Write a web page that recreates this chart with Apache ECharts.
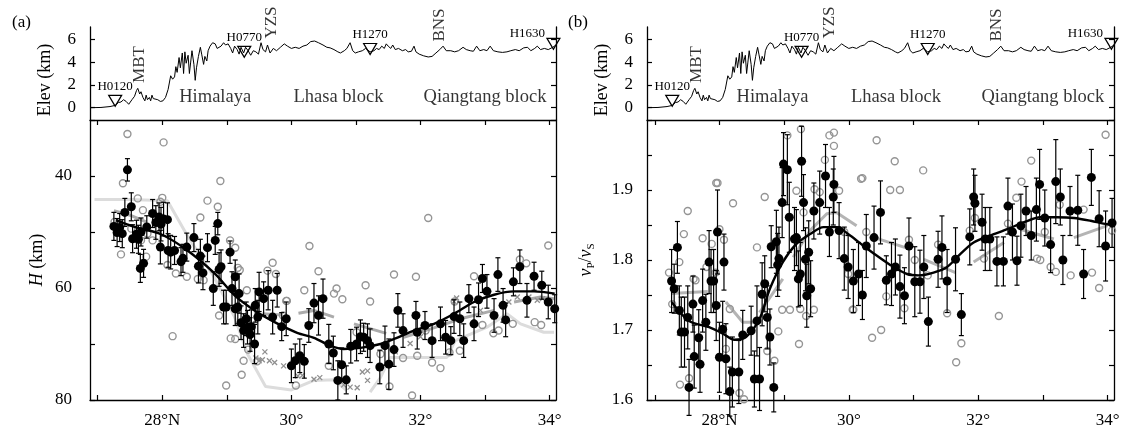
<!DOCTYPE html>
<html>
<head>
<meta charset="utf-8">
<script src="https://cdn.jsdelivr.net/npm/echarts@6.0.0/dist/echarts.min.js"></script>
<style>
  html, body { margin: 0; padding: 0; background: #fff; }
  #chart { width: 1126px; height: 432px; }
</style>
</head>
<body>
<div id="chart"></div>
<script>
// ---- data ----
// topography along the profile: [lat, elevation km]
const elevProfile = [
  [26.88,0.0],[27.05,0.02],[27.19,0.1],[27.27,0.2],[27.32,0.45],[27.36,0.5],[27.40,0.7],[27.44,0.55],
  [27.48,0.3],[27.50,0.2],[27.53,0.7],[27.57,1.0],[27.60,1.5],[27.62,1.7],[27.65,1.2],[27.67,1.4],
  [27.70,0.9],[27.73,0.6],[27.75,1.1],[27.77,0.7],[27.80,0.9],[27.82,0.6],[27.84,1.1],[27.86,0.8],
  [27.89,0.9],[27.93,0.7],[27.97,0.55],[28.01,0.6],[28.05,0.9],[28.09,1.6],[28.13,2.8],[28.16,2.5],
  [28.19,2.7],[28.21,3.6],[28.23,3.1],[28.26,4.4],[28.28,3.5],[28.31,4.8],[28.33,3.0],[28.35,4.9],
  [28.37,3.9],[28.40,4.6],[28.42,3.0],[28.44,4.0],[28.46,5.0],[28.49,3.8],[28.51,2.4],[28.53,3.5],
  [28.56,4.5],[28.59,5.3],[28.61,4.7],[28.64,3.8],[28.66,4.5],[28.69,4.1],[28.71,5.0],[28.74,5.4],
  [28.78,5.7],[28.82,5.6],[28.85,5.2],[28.88,5.1],[28.91,5.4],[28.95,5.7],[28.98,5.5],[29.02,5.6],
  [29.06,5.2],[29.09,4.8],[29.12,5.4],[29.16,5.1],[29.19,4.7],[29.22,5.3],[29.26,4.8],[29.29,5.3],
  [29.33,5.0],[29.37,4.6],[29.41,5.0],[29.45,4.9],[29.49,4.7],[29.53,5.7],[29.56,5.1],[29.60,4.9],
  [29.63,5.5],[29.67,4.8],[29.72,5.2],[29.77,5.0],[29.83,5.3],[29.89,5.6],[29.94,5.4],[30.00,5.2],
  [30.06,5.3],[30.12,5.2],[30.18,5.4],[30.24,5.5],[30.30,5.8],[30.36,5.85],[30.42,5.7],[30.49,5.5],
  [30.55,5.3],[30.60,5.25],[30.66,5.1],[30.72,4.9],[30.76,4.8],[30.82,5.0],[30.86,5.2],[30.91,5.7],
  [30.95,5.0],[30.99,4.8],[31.04,4.9],[31.10,5.0],[31.15,5.2],[31.22,4.9],[31.28,5.0],[31.32,5.2],
  [31.36,5.1],[31.40,5.4],[31.44,5.2],[31.47,5.6],[31.50,5.4],[31.54,5.2],[31.57,5.5],[31.61,5.1],
  [31.66,5.2],[31.72,5.0],[31.77,5.1],[31.81,4.9],[31.86,4.95],[31.90,5.4],[31.93,4.9],[31.98,4.7],
  [32.05,4.55],[32.12,4.45],[32.18,4.5],[32.24,4.8],[32.30,5.1],[32.35,5.4],[32.40,5.0],[32.47,5.0],
  [32.53,4.9],[32.59,5.0],[32.66,5.3],[32.71,5.1],[32.77,5.0],[32.82,4.95],[32.87,5.4],[32.92,5.0],
  [32.98,5.1],[33.03,5.0],[33.08,5.4],[33.13,5.0],[33.20,4.9],[33.27,4.85],[33.34,4.9],[33.40,5.0],
  [33.47,5.1],[33.53,5.0],[33.60,5.25],[33.66,5.3],[33.71,5.0],[33.77,5.2],[33.81,5.4],[33.86,5.1],
  [33.92,5.2],[33.98,5.1],[34.05,5.3],[34.10,5.5]
];
const stationNames = ['H0120', 'H0770', 'H1270', 'H1630'];
const stationLat = [27.27, 29.27, 31.22, 34.06];
const stationElev = [0.6, 4.9, 5.15, 5.6];
const boundaryNames = ['MBT', 'YZS', 'BNS'];
const boundaryLat = [27.64, 29.70, 32.29];
const blockNames = ['Himalaya', 'Lhasa block', 'Qiangtang block'];
const blockLat = [28.82, 30.73, 33.0];

const xTicks = [27, 28, 29, 30, 31, 32, 33, 34];
const xLabels = [28, 30, 32, 34];

// (a) crustal thickness H: [lat, H, error]
const hBlack = [
  [27.46,38.9,2.0],[27.25,49.0,2.5],[27.30,50.1,2.5],[27.34,49.2,2.5],[27.38,50.3,2.5],[27.42,46.5,2.5],
  [27.52,45.5,2.5],[27.54,51.2,2.5],[27.60,50.4,2.5],[27.63,51.3,2.5],[27.67,50.0,2.5],[27.66,56.5,2.5],
  [27.71,55.6,2.5],[27.76,49.1,2.0],[27.85,46.7,2.5],[27.90,48.3,3.0],[27.95,47.3,2.5],[27.98,48.6,3.0],
  [28.02,47.7,3.0],[28.08,47.8,3.0],[27.97,52.7,3.0],[28.09,53.3,3.0],[28.13,53.6,3.0],[28.19,53.3,2.5],
  [28.29,55.3,2.5],[28.32,54.7,2.5],[28.38,52.7,2.5],[28.49,51.0,2.5],[28.56,56.1,3.0],[28.59,54.3,3.0],
  [28.63,57.3,3.0],[28.70,52.8,2.5],[28.79,60.1,3.0],[28.82,51.5,2.5],[28.86,48.5,2.0],[28.88,56.7,3.0],
  [28.91,56.2,3.0],[28.95,63.4,3.0],[28.99,63.4,3.0],[29.05,53.6,2.0],[29.08,60.1,3.0],[29.13,63.7,3.0],
  [29.17,63.4,3.0],[29.13,58.0,3.0],[29.19,61.0,3.5],[29.22,66.2,3.0],[29.26,67.6,3.0],[29.30,65.5,3.0],
  [29.32,67.0,3.0],[29.36,68.3,3.0],[29.38,66.9,3.0],[29.43,70.0,3.5],[29.44,63.1,3.0],[29.48,65.2,3.0],
  [29.50,60.7,3.5],[29.57,61.9,3.0],[29.64,60.4,3.5],[29.71,65.2,3.0],[29.78,60.4,3.0],[29.85,66.9,2.5],
  [29.92,65.5,3.0],[30.00,73.9,3.0],[30.06,73.0,3.0],[30.13,72.1,3.0],[30.20,73.1,3.0],[30.27,66.7,3.0],
  [30.35,62.7,3.5],[30.42,64.9,3.5],[30.49,61.9,3.5],[30.58,70.0,3.5],[30.65,71.6,3.0],[30.72,76.5,3.5],
  [30.78,73.7,3.0],[30.85,76.4,2.5],[30.92,70.4,3.0],[31.01,70.0,3.0],[31.07,68.7,3.0],[31.12,68.8,2.5],
  [31.18,69.4,3.0],[31.22,70.3,3.0],[31.37,74.1,3.0],[31.45,70.3,3.5],[31.51,73.6,4.5],[31.59,71.0,3.0],
  [31.65,64.0,3.0],[31.73,67.6,3.0],[31.93,64.9,2.5],[31.95,67.9,3.0],[32.07,66.7,2.5],[32.18,69.4,3.0],
  [32.31,66.4,3.0],[32.39,68.8,3.0],[32.47,69.4,2.5],[32.52,65.1,3.0],[32.61,65.5,3.0],[32.67,69.4,3.0],
  [32.75,61.9,2.5],[32.83,66.4,3.0],[32.90,62.1,3.0],[32.96,58.3,2.5],[33.03,60.6,3.0],[33.14,64.9,3.0],
  [33.20,57.6,3.0],[33.28,63.1,3.0],[33.32,65.7,3.0],[33.44,58.9,2.5],[33.54,56.2,3.0],[33.65,62.2,3.0],
  [33.76,57.9,2.5],[33.88,59.5,2.5],[33.98,62.5,3.0],[34.08,63.7,2.5]
];
const hGrayCircles = [
  [27.46,32.5],[28.02,34.0],[27.39,41.3],[28.90,40.9],[27.62,44.0],[27.70,46.1],[28.00,43.9],[27.97,44.6],
  [28.70,44.4],[28.86,45.5],[28.59,47.4],[27.26,48.2],[27.33,48.5],[27.36,54.0],[27.52,49.4],[27.77,50.3],
  [27.67,51.5],[27.85,51.5],[27.75,54.4],[28.08,55.9],[28.21,57.4],[28.38,58.0],[28.16,68.6],[28.55,58.4],
  [28.64,58.6],[29.05,51.5],[29.13,52.8],[29.17,56.4],[29.20,56.8],[29.31,60.4],[29.71,55.5],[28.88,64.9],
  [29.06,69.0],[29.13,69.1],[29.26,73.0],[29.23,75.5],[28.99,77.4],[29.47,73.1],[29.33,71.0],[29.76,57.5],
  [29.63,56.9],[29.93,62.3],[30.07,77.4],[29.87,64.9],[30.28,52.5],[32.12,47.5],[30.42,57.0],[30.20,60.4],
  [29.92,62.3],[30.66,61.0],[30.79,62.0],[30.70,60.1],[31.15,59.5],[31.22,62.4],[31.59,57.6],[31.93,58.0],
  [30.58,73.9],[31.52,77.6],[31.87,79.2],[31.73,72.5],[31.95,72.1],[32.18,73.3],[32.31,74.3],[32.45,71.5],
  [32.61,71.2],[32.53,62.4],[32.83,57.9],[32.96,66.6],[33.13,68.1],[33.21,67.6],[33.43,66.4],[33.54,54.9],
  [33.64,55.6],[33.77,66.1],[33.87,66.6],[33.98,52.4],[31.01,67.9],[32.08,67.6],[31.38,71.8]
];
const hGrayCrosses = [
  [29.45,72.5],[29.50,73.0],[29.55,72.8],[29.59,71.4],[29.66,73.0],[29.74,73.3],[29.88,73.9],[30.10,75.7],
  [30.17,75.6],[30.35,76.3],[30.44,76.0],[30.81,77.3],[30.91,77.7],[31.02,77.8],[31.10,75.0],[31.18,74.8],
  [31.18,76.5],[31.61,71.4],[31.84,69.9],[32.00,68.7],[32.52,62.4],[32.56,61.8],[32.93,64.0],[33.14,65.2],
  [33.37,62.5],[33.50,61.6],[33.68,61.6],[33.81,62.2],[33.89,61.9]
];
const hLightLine = [
  [[26.95,44.2],[27.5,44.2],[28.08,44.4],[28.4,50.9],[28.8,58.0],[29.12,65.2],[29.32,71.8],[29.6,77.6],
   [30.0,78.2],[30.35,76.5],[30.66,76.4],[30.86,78.3]],
  [[31.22,78.6],[31.38,76.0],[31.53,72.4],[32.0,72.4],[32.41,72.4],[32.54,69.4],[33.03,67.0],[33.34,64.6],
   [33.55,66.4],[33.91,67.9],[34.07,67.9]]
];
const hGrayLine = [
  [[27.25,46.2],[27.5,47.0],[27.75,48.2]],
  [[29.55,64.6],[29.85,64.8]],
  [[30.11,64.5],[30.35,64.0],[30.66,65.2]],
  [[30.97,66.4],[31.47,68.1]],
  [[31.74,68.8],[32.16,67.3],[32.62,65.5],[33.14,64.0]],
  [[33.45,62.5],[33.86,61.6],[34.07,61.9]]
];
const hSmooth = [
  [27.28,47.9],[27.57,49.1],[27.98,50.4],[28.39,53.3],[28.81,57.4],[29.12,61.3],[29.43,64.0],[29.74,66.1],
  [30.09,68.0],[30.35,68.9],[30.6,70.3],[30.81,70.9],[31.07,70.7],[31.38,70.0],[31.59,69.1],[31.9,67.6],
  [32.21,66.4],[32.52,64.6],[32.83,62.5],[33.14,61.2],[33.45,60.6],[33.76,60.6],[34.08,61.0]
];

// (b) vP/vS: [lat, ratio, error]
const kBlack = [
  [27.26,1.770,0.045],[27.30,1.759,0.035],[27.35,1.818,0.037],[27.38,1.728,0.035],[27.41,1.697,0.05],
  [27.46,1.697,0.05],[27.51,1.718,0.045],[27.53,1.618,0.04],[27.59,1.737,0.04],[27.61,1.662,0.045],
  [27.68,1.689,0.04],[27.70,1.651,0.04],[27.74,1.742,0.045],[27.79,1.711,0.04],[27.84,1.797,0.045],
  [27.87,1.770,0.045],[27.91,1.770,0.045],[27.95,1.735,0.05],[27.97,1.840,0.06],[28.05,1.701,0.04],
  [28.07,1.797,0.04],[28.00,1.661,0.05],[28.10,1.659,0.05],[28.16,1.612,0.035],[28.20,1.640,0.05],
  [28.30,1.640,0.045],[28.36,1.693,0.035],[28.49,1.699,0.035],[28.54,1.630,0.04],[28.62,1.630,0.045],
  [28.58,1.713,0.05],[28.66,1.751,0.045],[28.70,1.766,0.04],[28.74,1.718,0.045],[28.78,1.690,0.04],
  [28.80,1.819,0.03],[28.84,1.618,0.035],[28.88,1.826,0.045],[28.90,1.793,0.045],[28.92,1.802,0.045],
  [28.97,1.882,0.05],[28.99,1.937,0.045],[29.05,1.929,0.05],[29.08,1.861,0.05],[29.16,1.830,0.045],
  [29.19,1.832,0.04],[29.22,1.773,0.04],[29.25,1.780,0.045],[29.27,1.941,0.05],[29.30,1.882,0.04],
  [29.33,1.801,0.045],[29.35,1.749,0.045],[29.38,1.811,0.045],[29.41,1.759,0.04],[29.46,1.870,0.04],
  [29.55,1.882,0.045],[29.64,1.920,0.045],[29.70,1.840,0.035],[29.77,1.908,0.04],[29.76,1.890,0.04],
  [29.85,1.842,0.04],[29.93,1.802,0.045],[29.99,1.790,0.045],[30.07,1.770,0.045],[30.15,1.780,0.045],
  [30.21,1.750,0.035],[30.27,1.820,0.045],[30.39,1.832,0.045],[30.49,1.868,0.045],[30.58,1.771,0.035],
  [30.66,1.780,0.045],[30.72,1.790,0.04],[30.79,1.762,0.045],[30.86,1.749,0.04],[30.93,1.820,0.04],
  [31.02,1.769,0.05],[31.10,1.769,0.045],[31.16,1.790,0.045],[31.23,1.712,0.035],[31.38,1.801,0.04],
  [31.44,1.818,0.045],[31.52,1.770,0.045],[31.65,1.801,0.045],[31.74,1.722,0.03],[31.87,1.833,0.04],
  [31.93,1.890,0.04],[31.95,1.881,0.04],[32.06,1.854,0.04],[32.11,1.830,0.045],[32.18,1.830,0.045],
  [32.29,1.798,0.035],[32.39,1.798,0.035],[32.46,1.877,0.04],[32.53,1.840,0.04],[32.60,1.799,0.035],
  [32.66,1.849,0.045],[32.74,1.870,0.035],[32.82,1.835,0.035],[32.90,1.872,0.045],[32.95,1.908,0.05],
  [33.03,1.860,0.04],[33.12,1.822,0.04],[33.20,1.912,0.06],[33.27,1.890,0.04],[33.31,1.800,0.035],
  [33.42,1.870,0.035],[33.54,1.871,0.05],[33.63,1.780,0.035],[33.75,1.918,0.04],[33.87,1.859,0.04],
  [33.97,1.820,0.05],[34.07,1.853,0.035]
];
const kGrayCircles = [
  [27.22,1.782],[27.27,1.737],[27.38,1.797],[27.45,1.837],[27.51,1.870],[27.39,1.622],[27.53,1.631],
  [27.60,1.773],[27.63,1.771],[27.74,1.831],[27.80,1.790],[27.88,1.823],[27.95,1.910],[27.97,1.910],
  [28.00,1.844],[28.07,1.829],[27.94,1.782],[28.10,1.673],[28.16,1.730],[28.21,1.881],[28.31,1.610],
  [28.38,1.601],[28.58,1.818],[28.70,1.890],[28.74,1.670],[28.85,1.656],[28.91,1.698],[28.97,1.729],
  [29.09,1.729],[29.05,1.978],[29.19,1.899],[29.23,1.680],[29.25,1.730],[29.30,1.868],[29.26,1.987],
  [29.34,1.720],[29.46,1.729],[29.47,1.901],[29.55,1.897],[29.63,1.943],[29.70,1.978],[29.77,1.982],
  [29.77,1.963],[29.85,1.899],[29.93,1.840],[29.99,1.780],[30.06,1.729],[30.19,1.916],
  [30.43,1.971],[30.71,1.941],[30.21,1.917],[31.15,1.928],[30.64,1.900],[30.79,1.900],[30.27,1.840],
  [30.93,1.829],[31.02,1.800],[31.38,1.822],[31.22,1.778],[30.58,1.748],[30.07,1.729],[30.86,1.731],
  [30.36,1.689],[30.50,1.700],[31.52,1.724],[31.74,1.681],[31.66,1.654],[31.87,1.842],[31.95,1.860],
  [32.09,1.802],[32.32,1.720],[32.59,1.889],[32.67,1.912],[32.82,1.942],[32.46,1.852],[32.91,1.802],
  [32.96,1.800],[33.03,1.840],[33.12,1.790],[33.20,1.783],[33.26,1.879],[33.43,1.778],[33.63,1.872],
  [33.76,1.782],[33.87,1.760],[33.97,1.979],[34.07,1.842]
];
const kGrayLine = [
  [[27.25,1.752],[27.82,1.755]],
  [[28.1,1.740],[28.36,1.711],[28.52,1.711]],
  [[28.62,1.725],[28.98,1.773]],
  [[29.14,1.804],[29.4,1.842],[29.66,1.866],[29.81,1.868],[30.12,1.849]],
  [[30.36,1.833],[30.9,1.817]],
  [[31.16,1.801],[31.65,1.782]],
  [[31.93,1.797],[32.4,1.825]],
  [[32.65,1.844],[33.17,1.830]],
  [[33.48,1.832],[34.0,1.849]]
];
const kSmooth = [
  [27.26,1.740],[27.53,1.713],[27.84,1.704],[28.05,1.695],[28.23,1.686],[28.41,1.690],[28.62,1.716],
  [28.78,1.759],[28.98,1.797],[29.19,1.823],[29.4,1.837],[29.61,1.847],[29.81,1.847],[30.02,1.835],
  [30.23,1.820],[30.39,1.809],[30.64,1.793],[30.9,1.780],[31.08,1.778],[31.31,1.782],[31.52,1.790],
  [31.73,1.809],[31.93,1.825],[32.19,1.835],[32.45,1.844],[32.71,1.854],[32.96,1.861],[33.22,1.861],
  [33.48,1.860],[33.74,1.856],[33.99,1.851],[34.1,1.850]
];

// ---- chart ----
const FONT = '"Liberation Serif", "Times New Roman", serif';
const X_MIN = 26.88, X_MAX = 34.1;
const chart = echarts.init(document.getElementById('chart'));

const grids = [
  { left: 90, top: 27, width: 466, height: 93 },
  { left: 90, top: 120, width: 466, height: 280 },
  { left: 647, top: 27, width: 467, height: 93 },
  { left: 647, top: 120, width: 467, height: 280 }
];

function xAx(gridIndex, opts) {
  return Object.assign({
    gridIndex, type: 'value', min: X_MIN, max: X_MAX,
    splitLine: { show: false },
    axisLine: { show: true, onZero: false, lineStyle: { color: '#000', width: 1.3 } },
    axisTick: { show: true, inside: true, length: 5, customValues: xTicks, lineStyle: { color: '#000', width: 1.2 } },
    axisLabel: { show: false }
  }, opts);
}
function yAx(gridIndex, opts) {
  return Object.assign({
    gridIndex, type: 'value',
    splitLine: { show: false },
    axisLine: { show: true, onZero: false, lineStyle: { color: '#000', width: 1.3 } },
    axisLabel: { show: false }
  }, opts);
}
const tickStyle = { color: '#000', width: 1.2 };
const labelStyle = { color: '#000', fontFamily: FONT, fontSize: 17 };
const xLabel = {
  show: true, customValues: xLabels, margin: 12, ...labelStyle,
  formatter: v => (v === 28 ? '28°N' : v + '°')
};

const xAxis = [
  xAx(0, { show: false }),
  xAx(1, { position: 'bottom', axisLabel: xLabel }),
  xAx(1, { position: 'top' }),
  xAx(2, { show: false }),
  xAx(3, { position: 'bottom', axisLabel: xLabel }),
  xAx(3, { position: 'top' })
];

const elevTicks = { show: true, inside: true, length: 5, customValues: [0, 2, 4, 6], lineStyle: tickStyle };
const hTicks = { show: true, inside: true, length: 5, customValues: [30, 40, 50, 60, 70, 80], lineStyle: tickStyle };
const kTicks = { show: true, inside: true, length: 5, customValues: [1.6, 1.65, 1.7, 1.75, 1.8, 1.85, 1.9, 1.95, 2.0], lineStyle: tickStyle };

const yAxis = [
  yAx(0, { min: -1.08, max: 7.08, position: 'left', axisTick: elevTicks,
    axisLabel: { show: true, customValues: [0, 2, 4, 6], margin: 14, ...labelStyle } }),
  yAx(0, { min: -1.08, max: 7.08, position: 'right', axisTick: elevTicks }),
  yAx(1, { min: 30, max: 80, inverse: true, position: 'left', axisTick: hTicks,
    axisLabel: { show: true, customValues: [40, 60, 80], margin: 18, ...labelStyle },
    name: '{i|H} (km)', nameLocation: 'middle', nameRotate: 90, nameGap: 44,
    nameTextStyle: { color: '#000', fontFamily: FONT, fontSize: 18,
      rich: { i: { fontStyle: 'italic', fontFamily: FONT, fontSize: 18, color: '#000' } } } }),
  yAx(1, { min: 30, max: 80, inverse: true, position: 'right', axisTick: hTicks }),
  yAx(2, { min: -1.08, max: 7.08, position: 'left', axisTick: elevTicks,
    axisLabel: { show: true, customValues: [0, 2, 4, 6], margin: 14, ...labelStyle } }),
  yAx(2, { min: -1.08, max: 7.08, position: 'right', axisTick: elevTicks }),
  yAx(3, { min: 1.6, max: 2.0, position: 'left', axisTick: kTicks,
    axisLabel: { show: true, customValues: [1.6, 1.7, 1.8, 1.9], margin: 14, ...labelStyle,
      formatter: v => v.toFixed(1) },
    name: '{v|v}{s|P}{n|/}{v|v}{s|S}', nameLocation: 'middle', nameRotate: 90, nameGap: 50,
    nameTextStyle: { color: '#000', fontFamily: FONT, fontSize: 18,
      rich: {
        v: { fontStyle: 'italic', fontFamily: FONT, fontSize: 18, color: '#000', lineHeight: 22, verticalAlign: 'middle' },
        n: { fontFamily: FONT, fontSize: 18, color: '#000', lineHeight: 22, verticalAlign: 'middle' },
        s: { fontFamily: FONT, fontSize: 11, color: '#000', lineHeight: 11, verticalAlign: 'bottom' }
      } } }),
  yAx(3, { min: 1.6, max: 2.0, position: 'right', axisTick: kTicks })
];

function errorBars(data, xi, yi) {
  return {
    type: 'custom', xAxisIndex: xi, yAxisIndex: yi, z: 5, silent: true, clip: false,
    data: data,
    renderItem(params, api) {
      const x = api.value(0), y = api.value(1), e = api.value(2);
      const a = api.coord([x, y - e]);
      const b = api.coord([x, y + e]);
      const hw = 2.5;
      const st = { stroke: '#000', lineWidth: 1.2 };
      return { type: 'group', children: [
        { type: 'line', shape: { x1: a[0], y1: a[1], x2: b[0], y2: b[1] }, style: st },
        { type: 'line', shape: { x1: a[0] - hw, y1: a[1], x2: a[0] + hw, y2: a[1] }, style: st },
        { type: 'line', shape: { x1: b[0] - hw, y1: b[1], x2: b[0] + hw, y2: b[1] }, style: st }
      ] };
    }
  };
}
function lineSegs(segs, xi, yi, color, width, z, smooth) {
  return segs.map(seg => ({
    type: 'line', xAxisIndex: xi, yAxisIndex: yi, data: seg, showSymbol: false, symbol: 'none',
    smooth: smooth ? 0.3 : 0, lineStyle: { color, width }, z, silent: true
  }));
}
function blackDots(data, xi, yi) {
  return { type: 'scatter', xAxisIndex: xi, yAxisIndex: yi, data: data.map(d => [d[0], d[1]]),
    symbol: 'circle', symbolSize: 9, itemStyle: { color: '#000', opacity: 1 }, z: 6, silent: true };
}
function grayRings(data, xi, yi) {
  return { type: 'scatter', xAxisIndex: xi, yAxisIndex: yi, data,
    symbol: 'circle', symbolSize: 7,
    itemStyle: { color: 'rgba(255,255,255,0)', borderColor: '#959595', borderWidth: 1.4, opacity: 1 }, z: 3, silent: true };
}

function elevSeries(xi, yi) {
  const out = [];
  out.push({ type: 'line', xAxisIndex: xi, yAxisIndex: yi, data: elevProfile, showSymbol: false, symbol: 'none',
    lineStyle: { color: '#000', width: 1 }, z: 3, silent: true });
  out.push({ type: 'scatter', xAxisIndex: xi, yAxisIndex: yi, clip: false, silent: true, z: 4,
    symbol: 'triangle', symbolRotate: 180, symbolSize: [13, 11],
    itemStyle: { color: 'rgba(255,255,255,0)', borderColor: '#000', borderWidth: 1.2, opacity: 1 },
    data: stationNames.map((n, i) => ({
      value: [stationLat[i], stationElev[i]], name: n,
      label: i === 3 ? { offset: [-26, 4] } : {}
    })),
    label: { show: true, position: 'top', distance: 2, formatter: p => p.name,
      fontFamily: FONT, fontSize: 13, color: '#000' } });
  const bY = [3.79, 7.47, 7.25];
  out.push({ type: 'scatter', xAxisIndex: xi, yAxisIndex: yi, clip: false, silent: true, symbolSize: 0,
    data: boundaryNames.map((n, i) => ({ value: [boundaryLat[i], bY[i]], name: n })),
    label: { show: true, position: 'inside', rotate: 90, formatter: p => p.name,
      fontFamily: FONT, fontSize: 17, color: '#000' } });
  out.push({ type: 'scatter', xAxisIndex: xi, yAxisIndex: yi, clip: false, silent: true, symbolSize: 0,
    data: blockNames.map((n, i) => ({ value: [blockLat[i], 0.94], name: n })),
    label: { show: true, position: 'inside', formatter: p => p.name,
      fontFamily: FONT, fontSize: 18.5, color: '#000' } });
  return out;
}

const crossSymbol = 'path://M0,0L10,10M10,0L0,10';

const series = [
  ...elevSeries(0, 0),
  ...elevSeries(3, 4),
  // panel (a)
  ...lineSegs(hLightLine, 1, 2, '#dcdcdc', 3, 1, false),
  ...lineSegs(hGrayLine, 1, 2, '#ababab', 3, 2, false),
  grayRings(hGrayCircles, 1, 2),
  { type: 'scatter', xAxisIndex: 1, yAxisIndex: 2, data: hGrayCrosses, symbol: crossSymbol, symbolSize: 5,
    itemStyle: { color: 'rgba(0,0,0,0)', borderColor: '#8f8f8f', borderWidth: 1.3, opacity: 1 }, z: 3, silent: true },
  ...lineSegs([hSmooth], 1, 2, '#000', 2.4, 4, true),
  errorBars(hBlack, 1, 2),
  blackDots(hBlack, 1, 2),
  // panel (b)
  ...lineSegs(kGrayLine, 4, 6, '#b4b4b4', 3, 2, false),
  grayRings(kGrayCircles, 4, 6),
  ...lineSegs([kSmooth], 4, 6, '#000', 2.4, 4, true),
  errorBars(kBlack, 4, 6),
  blackDots(kBlack, 4, 6)
];

const graphic = [
  { type: 'text', x: 12, y: 14, style: { text: '(a)', font: '17px ' + FONT, fill: '#000' } },
  { type: 'text', x: 568, y: 14, style: { text: '(b)', font: '17px ' + FONT, fill: '#000' } },
  { type: 'text', x: 45, y: 80, rotation: Math.PI / 2,
    style: { text: 'Elev (km)', font: '18px ' + FONT, fill: '#000', align: 'center', verticalAlign: 'middle' } },
  { type: 'text', x: 602, y: 80, rotation: Math.PI / 2,
    style: { text: 'Elev (km)', font: '18px ' + FONT, fill: '#000', align: 'center', verticalAlign: 'middle' } }
];

chart.setOption({
  animation: false,
  backgroundColor: '#fff',
  grid: grids,
  xAxis, yAxis, series, graphic
});
</script>
</body>
</html>
